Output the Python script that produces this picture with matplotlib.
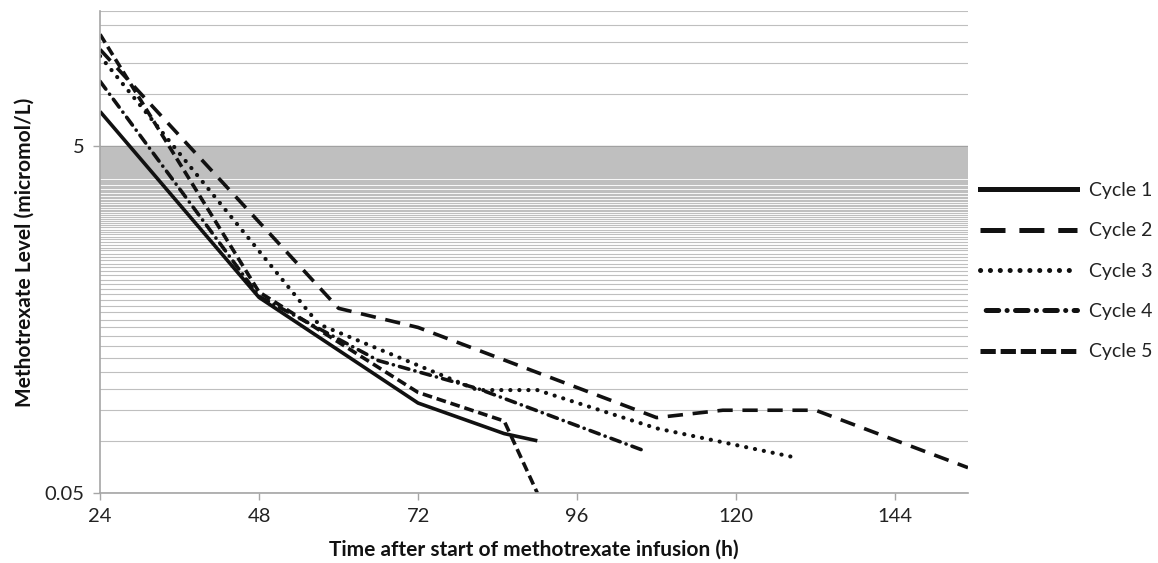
import numpy as np
import matplotlib
matplotlib.use("Agg")
import matplotlib.pyplot as plt
from matplotlib.lines import Line2D
from matplotlib.ticker import FixedLocator, NullFormatter

plt.rcParams['font.family'] = ['Lato', 'DejaVu Sans']
plt.rcParams['lines.scale_dashes'] = False

# values (hours, micromol/L)
t_cycle1 = [24, 48, 72, 85, 90]
v_cycle1 = [7.9, 0.67, 0.165, 0.11, 0.1]

t_cycle2 = [24, 60, 72, 108, 118, 132, 155]
v_cycle2 = [18, 0.58, 0.45, 0.136, 0.15, 0.15, 0.07]

t_cycle3 = [24, 57, 81, 90, 108, 129]
v_cycle3 = [16.5, 0.47, 0.196, 0.196, 0.118, 0.08]

t_cycle4 = [24, 48, 66, 81, 106]
v_cycle4 = [11.8, 0.68, 0.29, 0.2, 0.088]

t_cycle5 = [24, 48, 72, 85, 90]
v_cycle5 = [22, 0.72, 0.19, 0.13, 0.05]

labels = ['Cycle 1', 'Cycle 2', 'Cycle 3', 'Cycle 4', 'Cycle 5']
x_ticks = [24, 48, 72, 96, 120, 144]
y_ticks = [0.05, 5]
y_ticklabels = ['0.05', '5']

# gridlines: every 0.05 up to 5, every 5 above
grid_low = [round(0.05 * k, 2) for k in range(2, 100)]
grid_high = [10, 15, 20, 25, 30]

line_color = '#111111'
styles = [
    dict(linestyle='-', lw=2.6),
    dict(linestyle=(0, (11, 7)), lw=2.6, dash_capstyle='butt'),
    dict(linestyle=(0, (0.1, 6.4)), lw=3.0, dash_capstyle='round'),
    dict(linestyle=(0, (7, 4.5, 0.1, 4.5)), lw=2.6, dash_capstyle='round'),
    dict(linestyle=(0, (7, 3.5)), lw=2.6, dash_capstyle='butt'),
]
legend_styles = [
    dict(linestyle='-', lw=3.6),
    dict(linestyle=(0, (18, 10)), lw=3.6, dash_capstyle='butt'),
    dict(linestyle=(0, (0.1, 7)), lw=3.6, dash_capstyle='round'),
    dict(linestyle=(2, (0.1, 6, 9, 6)), lw=3.6, dash_capstyle='round'),
    dict(linestyle=(0, (11, 3.5)), lw=3.6, dash_capstyle='butt'),
]

fig = plt.figure(figsize=(11.58, 5.63), dpi=100)
ax = fig.add_axes([0.0864, 0.1243, 0.7495, 0.8562])

series = [(t_cycle1, v_cycle1), (t_cycle2, v_cycle2), (t_cycle3, v_cycle3),
          (t_cycle4, v_cycle4), (t_cycle5, v_cycle5)]
for (t, v), st in zip(series, styles):
    ax.plot(t, v, color=line_color, solid_capstyle='butt', **st)

ax.set_yscale('log')
ax.set_ylim(0.05, 30)
ax.set_xlim(24, 155)

ax.set_xticks(x_ticks)
ax.set_xticklabels([str(x) for x in x_ticks])
ax.set_yticks(y_ticks)
ax.set_yticklabels(y_ticklabels)
ax.yaxis.set_minor_locator(FixedLocator(grid_low + grid_high))
ax.yaxis.set_minor_formatter(NullFormatter())

ax.grid(axis='y', which='minor', color='#bfbfbf', lw=0.8)
ax.grid(axis='y', which='major', color='#a0a0a0', lw=1.0)
ax.set_axisbelow(True)

for side in ['top', 'right']:
    ax.spines[side].set_visible(False)
for side in ['left', 'bottom']:
    ax.spines[side].set_color('#a6a6a6')
    ax.spines[side].set_linewidth(1.2)

ax.tick_params(axis='y', which='minor', length=0)
ax.tick_params(axis='both', which='major', length=5, width=1, color='#a6a6a6',
               labelsize=14.5, labelcolor='#222222', pad=6)

ax.set_xlabel('Time after start of methotrexate infusion (h)', fontsize=15,
              fontweight='bold', color='#111111', labelpad=10)
ax.set_ylabel('Methotrexate Level (micromol/L)', fontsize=15,
              fontweight='bold', color='#111111', labelpad=7)

handles = [Line2D([0], [0], color=line_color, **st) for st in legend_styles]
ax.legend(handles, labels, loc='center left', bbox_to_anchor=(1.0135, 0.46),
          frameon=False, fontsize=14, handlelength=5.0, handletextpad=0.6,
          labelspacing=1.2, borderaxespad=0, borderpad=0, labelcolor='#222222')

fig.savefig('out.png', dpi=100, facecolor='white')
